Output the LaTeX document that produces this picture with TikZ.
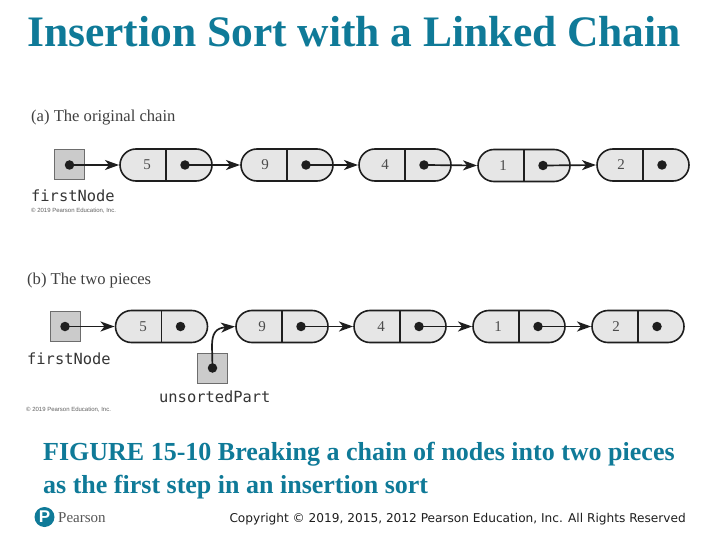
\documentclass[tikz,border=0pt]{standalone}
\usepackage{fontspec}
\setmainfont{Liberation Serif}
\newfontfamily\cfont{DejaVu Sans Mono}
\newfontfamily\pfont{Liberation Sans}
\newfontfamily\vfont{DejaVu Sans}
\usetikzlibrary{arrows.meta,shapes.misc}
\definecolor{teal1}{HTML}{0F7A98}
\definecolor{cellgray}{HTML}{E6E6E6}
\definecolor{boxgray}{HTML}{CBCBCB}
\definecolor{ink}{HTML}{1E1E1E}
\tikzset{
  x=1pt,y=-1pt,
  cell/.style={rounded rectangle,draw=ink,line width=1.6pt,fill=cellgray,minimum width=92pt,minimum height=32pt,inner sep=0pt,outer sep=0pt},
  refbox/.style={rectangle,draw=ink!65,line width=1pt,fill=boxgray,minimum width=30pt,minimum height=30pt,inner sep=0pt,outer sep=0pt},
  dotmark/.style={circle,fill=ink,minimum size=9.5pt,inner sep=0pt,outer sep=0pt},
  link/.style={draw=ink,line width=1.7pt,-{Stealth[length=14pt,width=10pt,inset=4pt]},shorten >=1pt},
  numlab/.style={font=\fontsize{15}{17}\selectfont,text=ink!80,inner sep=0pt},
  caption/.style={font=\fontsize{16.6}{19}\selectfont,text=ink!85,anchor=base west,inner sep=0pt},
  code/.style={font=\cfont\fontsize{15.4}{17}\selectfont,text=ink!90,anchor=base west,inner sep=0pt},
  tiny/.style={font=\pfont\fontsize{6}{7}\selectfont,text=ink!70,anchor=base west,inner sep=0pt},
  headline/.style={font=\bfseries\fontsize{43.5}{48}\selectfont,text=teal1,anchor=base west,inner sep=0pt},
  figtext/.style={font=\bfseries\fontsize{26}{30}\selectfont,text=teal1,anchor=base west,inner sep=0pt},
}
% name, centre x, centre y, value, value x
\newcommand{\chainnode}[5]{%
  \node[cell] (#1) at (#2,#3) {};
  \draw[draw=ink,line width=1.6pt] (#1.north) -- (#1.south);
  \node[numlab] (#1v) at (#5,#3) {#4};
  \node[dotmark] (#1d) at ([xshift=19pt]#1.center) {};
}
\begin{document}
\begin{tikzpicture}
\useasboundingbox (0,0) rectangle (720,540);
\fill[white] (0,0) rectangle (720,540);
\node[headline] (title) at (27,47) {Insertion Sort with a Linked Chain};
\node[caption] (capa) at (31,121.5) {(a) The original chain};
\node[caption] (capb) at (27,284.5) {(b) The two pieces};
% chain a
\node[refbox] (fa) at (69.5,165) {};
\node[dotmark] (fad) at (fa.center) {};
\chainnode{a1}{166}{165}{5}{147}
\chainnode{a2}{287}{165}{9}{265}
\chainnode{a3}{405}{165}{4}{385}
\chainnode{a4}{524}{165.5}{1}{503}
\chainnode{a5}{643}{165}{2}{621}
\draw[link] (fad.center) -- (a1.west);
\draw[link] (a1d.center) -- (a2.west);
\draw[link] (a2d.center) -- (a3.west);
\draw[link] (a3d.center) -- (a4.west);
\draw[link] (a4d.center) -- (a5.west);
\node[code] (fna) at (31,202) {firstNode};
\node[tiny] (cra) at (31,213) {\textcopyright\ 2019 Pearson Education, Inc.};
% chain b
\node[refbox] (fb) at (65,326.5) {};
\node[dotmark] (fbd) at (fb.center) {};
\chainnode{b1}{161.5}{326.5}{5}{143}
\chainnode{b2}{282}{326.5}{9}{262}
\chainnode{b3}{400}{326.5}{4}{381}
\chainnode{b4}{519}{326.5}{1}{498}
\chainnode{b5}{638}{326.5}{2}{616}
\draw[link] (fbd.center) -- (b1.west);
\draw[link] (b2d.center) -- (b3.west);
\draw[link] (b3d.center) -- (b4.west);
\draw[link] (b4d.center) -- (b5.west);
\node[refbox] (un) at (212.5,368) {};
\node[dotmark] (und) at (un.center) {};
\draw[link] (und.center) -- (212,346) .. controls (212,333) and (216,328) .. (b2.west);
\node[code] (fnb) at (27,364) {firstNode};
\node[code] (unl) at (159,402) {unsortedPart};
\node[tiny] (crb) at (26,411) {\textcopyright\ 2019 Pearson Education, Inc.};
% figure caption
\node[figtext] (fig1) at (43,460) {FIGURE 15-10 Breaking a chain of nodes into two pieces};
\node[figtext] (fig2) at (43,493) {as the first step in an insertion sort};
% footer
\node[circle,fill=teal1,minimum size=20pt,inner sep=0pt] (logo) at (44.5,517) {};
\node[font=\pfont\bfseries\fontsize{17}{17}\selectfont,text=white,inner sep=0pt] (logop) at (44.5,517) {P};
\node[font=\fontsize{15}{17}\selectfont,text=ink!75,anchor=base west,inner sep=0pt] (pearson) at (58,522) {Pearson};
\node[font=\vfont\fontsize{12.15}{15}\selectfont,text=ink,anchor=base east,inner sep=0pt] (copy) at (686,522) {Copyright \textcopyright\ 2019, 2015, 2012 Pearson Education, Inc. All Rights Reserved};
\end{tikzpicture}
\end{document}
